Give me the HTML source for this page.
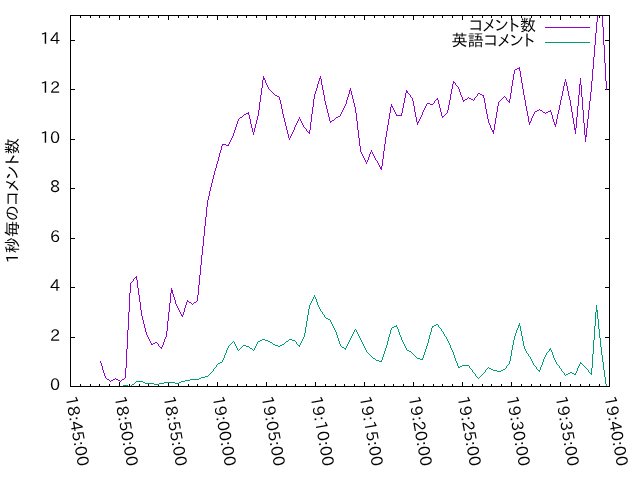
<!DOCTYPE html>
<html lang="ja">
<head>
<meta charset="utf-8">
<title>1秒毎のコメント数</title>
<style>
html,body{margin:0;padding:0;background:#fff;overflow:hidden}
svg{display:block;will-change:transform}
text{font-family:'IPAPGothic','IPAGothic','Liberation Sans',sans-serif;font-size:16px;fill:#000}
.ax{stroke:#000;stroke-width:1;fill:none;shape-rendering:crispEdges}
.ln{stroke-width:1;fill:none;shape-rendering:crispEdges;stroke-linejoin:round}
</style>
</head>
<body>
<svg width="640" height="480" viewBox="0 0 640 480">
<rect width="640" height="480" fill="#fff"/>
<path class="ax" d="M70.5 386v-4M70.5 16v4M80.5 386v-2M80.5 16v2M90.5 386v-2M90.5 16v2M99.5 386v-2M99.5 16v2M109.5 386v-2M109.5 16v2M119.5 386v-4M119.5 16v4M129.5 386v-2M129.5 16v2M139.5 386v-2M139.5 16v2M148.5 386v-2M148.5 16v2M158.5 386v-2M158.5 16v2M168.5 386v-4M168.5 16v4M178.5 386v-2M178.5 16v2M188.5 386v-2M188.5 16v2M197.5 386v-2M197.5 16v2M207.5 386v-2M207.5 16v2M217.5 386v-4M217.5 16v4M227.5 386v-2M227.5 16v2M237.5 386v-2M237.5 16v2M246.5 386v-2M246.5 16v2M256.5 386v-2M256.5 16v2M266.5 386v-4M266.5 16v4M276.5 386v-2M276.5 16v2M286.5 386v-2M286.5 16v2M295.5 386v-2M295.5 16v2M305.5 386v-2M305.5 16v2M315.5 386v-4M315.5 16v4M325.5 386v-2M325.5 16v2M335.5 386v-2M335.5 16v2M344.5 386v-2M344.5 16v2M354.5 386v-2M354.5 16v2M364.5 386v-4M364.5 16v4M374.5 386v-2M374.5 16v2M384.5 386v-2M384.5 16v2M393.5 386v-2M393.5 16v2M403.5 386v-2M403.5 16v2M413.5 386v-4M413.5 16v4M423.5 386v-2M423.5 16v2M433.5 386v-2M433.5 16v2M442.5 386v-2M442.5 16v2M452.5 386v-2M452.5 16v2M462.5 386v-4M462.5 16v4M472.5 386v-2M472.5 16v2M482.5 386v-2M482.5 16v2M491.5 386v-2M491.5 16v2M501.5 386v-2M501.5 16v2M511.5 386v-4M511.5 16v4M521.5 386v-2M521.5 16v2M531.5 386v-2M531.5 16v2M540.5 386v-2M540.5 16v2M550.5 386v-2M550.5 16v2M560.5 386v-4M560.5 16v4M570.5 386v-2M570.5 16v2M580.5 386v-2M580.5 16v2M589.5 386v-2M589.5 16v2M599.5 386v-2M599.5 16v2M609.5 386v-4M609.5 16v4M71 386.5h4M609 386.5h-4M71 337.5h4M609 337.5h-4M71 287.5h4M609 287.5h-4M71 238.5h4M609 238.5h-4M71 188.5h4M609 188.5h-4M71 139.5h4M609 139.5h-4M71 89.5h4M609 89.5h-4M71 40.5h4M609 40.5h-4"/>
<path class="ln" stroke="#9400d3" d="M100.5 361v2M101.5 363v3M102.5 366v4M103.5 370v3M104.5 373v3M105.5 376v2M106.5 378v1M107 379.5h2M109.5 380v1M110.5 381v1M111 380.5h2M113 379.5h2M115.5 378v1M116 379.5h2M118 380.5h2M120.5 381v1M121.5 380v1M122 379.5h2M124.5 378v1M125.5 368v10M126.5 349v19M127.5 330v19M128.5 312v18M129.5 293v19M130.5 283v10M131.5 282v1M132.5 281v1M133.5 279v2M134.5 278v1M135 277.5h2M136.5 276v1M136.5 278v2M137.5 280v8M138.5 288v7M139.5 295v7M140.5 302v8M141.5 310v6M142.5 316v4M143.5 320v4M144.5 324v4M145.5 328v4M146.5 332v3M147.5 335v2M148.5 337v2M149.5 339v2M150.5 341v2M151.5 343v1M151 344.5h2M153 343.5h2M155 342.5h2M157.5 343v1M158.5 344v2M159.5 346v1M160 347.5h2M161.5 348v1M162.5 345v2M163.5 342v3M164.5 339v3M165.5 337v2M166.5 331v6M167.5 321v10M168.5 312v9M169.5 303v9M170.5 293v10M171.5 288v2M171 290.5h2M171 291.5h2M171 292.5h2M172.5 293v1M173.5 294v3M174.5 297v3M175.5 300v4M176.5 304v2M177.5 306v2M178.5 308v2M179.5 310v2M180.5 312v2M181.5 314v1M181 315.5h2M182.5 316v1M183.5 312v3M184.5 308v4M185.5 305v3M186.5 302v3M187.5 300v1M187 301.5h2M189 302.5h2M191.5 303v1M192.5 304v1M193.5 303v1M194 302.5h2M196.5 301v1M197.5 295v6M198.5 285v10M199.5 275v10M200.5 265v10M201.5 255v10M202.5 246v9M203.5 236v10M204.5 226v10M205.5 217v9M206.5 207v10M207.5 200v7M208.5 196v4M209.5 191v5M210.5 187v4M211.5 183v4M212.5 179v4M213.5 175v4M214.5 171v4M215.5 168v3M216.5 164v4M217.5 161v3M218.5 157v4M219.5 153v4M220.5 150v3M221.5 146v4M222 144.5h4M222.5 145v1M226 145.5h3M228.5 144v1M229.5 142v2M230.5 140v2M231.5 138v2M232.5 136v2M233.5 133v3M234.5 130v3M235.5 127v3M236.5 124v3M237.5 121v3M238.5 119v2M239.5 118v1M240 117.5h2M242.5 116v1M243.5 115v1M244 114.5h2M246 113.5h3M248.5 112v1M248.5 114v1M249.5 115v4M250.5 119v5M251.5 124v4M252.5 128v4M253.5 132v3M254.5 128v4M255.5 124v4M256.5 120v4M257.5 116v4M258.5 110v6M259.5 102v8M260.5 95v7M261.5 88v7M262.5 80v8M263.5 76v2M263 78.5h2M263 79.5h2M265.5 80v3M266.5 83v2M267.5 85v2M268.5 87v2M269.5 89v1M270.5 90v1M271.5 91v1M272.5 92v1M273.5 93v1M274.5 94v1M275 95.5h2M277 96.5h2M279.5 97v3M280.5 100v4M281.5 104v5M282.5 109v5M283.5 114v4M284.5 118v4M285.5 122v4M286.5 126v4M287.5 130v4M288.5 134v4M289.5 138v2M290.5 136v2M291.5 134v2M292.5 132v2M293.5 130v2M294.5 127v3M295.5 125v2M296.5 123v2M297.5 121v2M298.5 119v2M299.5 117v2M300.5 119v2M301.5 121v2M302.5 123v2M303.5 125v2M304.5 127v1M305.5 128v1M306.5 129v2M307.5 131v1M308 132.5h2M309.5 130v2M309.5 133v1M310.5 122v8M311.5 114v8M312.5 107v7M313.5 99v8M314.5 94v5M315.5 91v3M316.5 88v3M317.5 84v4M318.5 81v3M319 78.5h2M319.5 79v2M320.5 76v2M321.5 79v6M322.5 85v5M323.5 90v5M324.5 95v6M325.5 101v4M326.5 105v4M327.5 109v4M328.5 113v4M329.5 117v4M330 121.5h2M330.5 122v1M332 120.5h2M334.5 119v1M335.5 118v1M336 117.5h2M338 116.5h2M340.5 114v2M341.5 112v2M342.5 110v2M343.5 108v2M344.5 106v2M345.5 104v2M346.5 100v4M347.5 97v3M348.5 94v3M349 90.5h2M349.5 91v3M350.5 88v2M351.5 91v4M352.5 95v4M353.5 99v4M354.5 103v4M355.5 107v6M356.5 113v8M357.5 121v9M358.5 130v8M359.5 138v8M360.5 146v6M361.5 152v2M362.5 154v2M363.5 156v2M364.5 158v2M365.5 160v2M366.5 162v2M367.5 160v2M368.5 157v3M369.5 154v3M370.5 152v2M371.5 150v2M372.5 152v2M373.5 154v2M374.5 156v2M375.5 158v2M376.5 160v1M377.5 161v2M378.5 163v2M379.5 165v2M380 167.5h2M380 168.5h2M381.5 166v1M381.5 169v1M382.5 159v7M383.5 151v8M384.5 144v7M385.5 137v7M386.5 131v6M387.5 125v6M388.5 119v6M389.5 113v6M390.5 107v6M391.5 104v2M391 106.5h2M392.5 107v1M393.5 108v2M394.5 110v2M395.5 112v2M396.5 114v1M396 115.5h6M401.5 113v2M402.5 108v5M403.5 103v5M404.5 98v5M405.5 93v5M406.5 90v1M406 91.5h2M406 92.5h2M408.5 93v1M409.5 94v1M410.5 95v2M411.5 97v1M412.5 98v3M413.5 101v5M414.5 106v6M415.5 112v5M416.5 117v5M417 122.5h2M417.5 123v2M418.5 121v1M419.5 119v2M420.5 117v2M421.5 115v2M422.5 112v3M423.5 110v2M424.5 108v2M425.5 106v2M426.5 104v2M427 103.5h3M430 104.5h3M433.5 103v1M434.5 101v2M435.5 100v1M436 99.5h2M437.5 98v1M438.5 100v4M439.5 104v4M440.5 108v4M441.5 112v4M442 116.5h2M442.5 117v1M444.5 115v1M445.5 114v1M446.5 113v1M447.5 110v3M448.5 105v5M449.5 100v5M450.5 94v6M451.5 89v5M452.5 84v5M453.5 81v1M453 82.5h2M453.5 83v1M455.5 83v2M456.5 85v1M457.5 86v1M458.5 87v2M459.5 89v3M460.5 92v3M461.5 95v2M462.5 97v3M463 100.5h2M463.5 101v1M465 99.5h2M467.5 98v1M468.5 97v1M469 98.5h2M471 99.5h2M473.5 100v1M474.5 98v2M475.5 97v1M476.5 96v1M477.5 94v2M478 93.5h2M480 94.5h2M482 95.5h2M483.5 96v2M484.5 98v5M485.5 103v6M486.5 109v5M487.5 114v5M488.5 119v4M489.5 123v2M490.5 125v3M491.5 128v2M492 130.5h2M492 131.5h2M493.5 132v2M494.5 124v6M495.5 118v6M496.5 112v6M497.5 106v6M498.5 102v4M499.5 101v1M500.5 100v1M501.5 99v1M502.5 98v1M503.5 97v1M504.5 96v1M505.5 97v1M506.5 98v2M507.5 100v1M508 101.5h2M509.5 99v2M509.5 102v1M510.5 93v6M511.5 86v7M512.5 80v6M513.5 74v6M514.5 70v4M515 69.5h2M517 68.5h3M519.5 67v1M519.5 69v2M520.5 71v6M521.5 77v6M522.5 83v6M523.5 89v6M524.5 95v5M525.5 100v6M526.5 106v5M527.5 111v5M528.5 116v6M529 122.5h2M529.5 123v2M530.5 121v1M531.5 118v3M532.5 116v2M533.5 114v2M534.5 112v2M535 111.5h2M537 110.5h2M539.5 109v1M540 110.5h2M542.5 111v1M543 112.5h2M545.5 113v1M546 112.5h2M548 111.5h3M550.5 110v1M551.5 112v3M552.5 115v4M553.5 119v3M554.5 122v2M554 124.5h2M555.5 125v2M556.5 119v5M557.5 114v5M558.5 110v4M559.5 105v5M560.5 100v5M561.5 96v4M562.5 91v5M563.5 86v5M564.5 82v4M565.5 79v3M566.5 82v4M567.5 86v5M568.5 91v5M569.5 96v4M570.5 100v6M571.5 106v6M572.5 112v6M573.5 118v6M574.5 124v4M574 128.5h2M574 129.5h2M575.5 130v4M576.5 117v11M577.5 106v11M578.5 95v11M579 84.5h2M579.5 85v10M580.5 78v6M581.5 85v12M582.5 97v13M583.5 110v13M584.5 123v12M585 135.5h2M585 136.5h2M585.5 137v5M586.5 128v7M587.5 119v9M588.5 110v9M589.5 101v9M590.5 92v9M591.5 81v11M592.5 69v12M593.5 57v12M594.5 45v12M595.5 33v12M596.5 22v11M597.5 15v7M602.5 15v12M603.5 27v18M604.5 45v18M605.5 63v18M606.5 81v9"/>
<path class="ln" stroke="#009e73" d="M100 386.5h23M123 385.5h5M128 386.5h3M131.5 385v1M132 384.5h2M134.5 383v1M135.5 382v1M136 381.5h7M143 382.5h2M145 383.5h9M154 384.5h5M159 383.5h5M164 382.5h11M175 383.5h4M179 382.5h2M181 381.5h4M185 380.5h5M190 379.5h9M199 378.5h2M201 377.5h4M205 376.5h3M208.5 375v1M209.5 374v1M210.5 373v1M211.5 372v1M212.5 371v1M213.5 369v2M214.5 368v1M215.5 367v1M216.5 365v2M217.5 364v1M218 363.5h2M220 362.5h2M222.5 360v2M223.5 358v2M224.5 355v3M225.5 353v2M226.5 350v3M227.5 348v2M228.5 346v2M229.5 345v1M230.5 344v1M231.5 343v1M232.5 342v1M233.5 341v1M234.5 342v2M235.5 344v2M236.5 346v2M237.5 348v2M238.5 350v1M239.5 349v1M240.5 348v1M241.5 347v1M242.5 346v1M243 345.5h3M246 346.5h3M249.5 347v1M250 348.5h2M252.5 349v1M253.5 350v1M254.5 348v2M255.5 346v2M256.5 344v2M257.5 342v2M258 341.5h2M260 340.5h2M262 339.5h3M265 340.5h3M268 341.5h2M270 342.5h2M272.5 343v1M273 344.5h2M275 345.5h3M278 346.5h2M280 345.5h2M282 344.5h2M284.5 343v1M285.5 342v1M286 341.5h2M288.5 340v1M289 339.5h3M292 340.5h3M295.5 341v1M296.5 342v2M297.5 344v1M298 345.5h2M299.5 346v1M300.5 343v2M301.5 341v2M302.5 339v2M303.5 337v2M304.5 333v4M305.5 327v6M306.5 321v6M307.5 315v6M308.5 309v6M309.5 305v4M310.5 303v2M311.5 301v2M312.5 299v2M313.5 297v2M314.5 295v2M315.5 297v2M316.5 299v3M317.5 302v3M318.5 305v2M319.5 307v2M320.5 309v2M321.5 311v1M322.5 312v2M323.5 314v1M324.5 315v2M325.5 317v1M326 318.5h2M328 319.5h2M330.5 320v2M331.5 322v2M332.5 324v2M333.5 326v2M334.5 328v2M335.5 330v2M336.5 332v3M337.5 335v3M338.5 338v3M339.5 341v3M340.5 344v2M341.5 346v1M342 347.5h2M344 348.5h2M345.5 349v1M346.5 346v2M347.5 344v2M348.5 342v2M349.5 340v2M350.5 338v2M351.5 336v2M352.5 334v2M353.5 332v2M354.5 330v2M355.5 329v1M356.5 330v2M357.5 332v2M358.5 334v2M359.5 336v2M360.5 338v2M361.5 340v2M362.5 342v2M363.5 344v2M364.5 346v2M365.5 348v2M366.5 350v2M367.5 352v1M368.5 353v1M369.5 354v1M370.5 355v1M371.5 356v1M372.5 357v1M373 358.5h2M375.5 359v1M376 360.5h3M379 361.5h3M381.5 360v1M382.5 357v3M383.5 354v3M384.5 351v3M385.5 348v3M386.5 345v3M387.5 341v4M388.5 337v4M389.5 334v3M390.5 330v4M391.5 328v2M392 327.5h2M394 326.5h3M396.5 325v1M397.5 327v2M398.5 329v3M399.5 332v3M400.5 335v2M401.5 337v3M402.5 340v2M403.5 342v2M404.5 344v2M405.5 346v2M406.5 348v2M407 350.5h2M409 351.5h2M411.5 352v1M412.5 353v1M413.5 354v1M414.5 355v1M415.5 356v1M416.5 357v1M417 358.5h3M420 359.5h3M422.5 358v1M423.5 355v3M424.5 352v3M425.5 349v3M426.5 346v3M427.5 343v3M428.5 339v4M429.5 335v4M430.5 332v3M431.5 328v4M432 326.5h2M432.5 327v1M434 325.5h2M436 324.5h2M438.5 325v2M439.5 327v1M440.5 328v1M441.5 329v2M442.5 331v1M443.5 332v2M444.5 334v2M445.5 336v1M446.5 337v2M447.5 339v2M448.5 341v2M449.5 343v2M450.5 345v3M451.5 348v2M452.5 350v2M453.5 352v3M454.5 355v3M455.5 358v3M456.5 361v2M457.5 363v3M458.5 366v1M458 367.5h2M460 366.5h2M462 365.5h7M469.5 366v2M470.5 368v1M471.5 369v1M472.5 370v2M473.5 372v1M474.5 373v1M475.5 374v2M476.5 376v1M477.5 377v1M478.5 378v1M479.5 377v1M480.5 376v1M481.5 375v1M482.5 374v1M483.5 373v1M484.5 372v1M485.5 370v2M486.5 369v1M487.5 368v1M488.5 367v1M489 368.5h2M491 369.5h2M493 370.5h4M497 371.5h4M501 370.5h2M503 369.5h2M505.5 368v1M506.5 366v2M507.5 365v1M508.5 364v1M509.5 361v3M510.5 356v5M511.5 350v6M512.5 345v5M513.5 340v5M514.5 336v4M515.5 333v3M516.5 330v3M517.5 328v2M518 325.5h2M518.5 326v2M519.5 323v2M520.5 326v5M521.5 331v5M522.5 336v5M523.5 341v5M524.5 346v3M525.5 349v2M526.5 351v2M527.5 353v1M528.5 354v2M529.5 356v1M530.5 357v2M531.5 359v2M532.5 361v2M533.5 363v2M534.5 365v1M535.5 366v1M536.5 367v2M537.5 369v1M538 370.5h2M539.5 371v1M540.5 367v3M541.5 365v2M542.5 362v3M543.5 359v3M544.5 357v2M545.5 355v2M546.5 353v2M547.5 352v1M548.5 351v1M549 349.5h2M549.5 350v1M550.5 348v1M551.5 350v2M552.5 352v3M553.5 355v3M554.5 358v2M555.5 360v2M556.5 362v2M557.5 364v1M558.5 365v1M559.5 366v2M560.5 368v1M561.5 369v2M562.5 371v1M563.5 372v1M564.5 373v2M565.5 375v1M566 374.5h2M568 373.5h2M570 372.5h2M572 373.5h2M574 374.5h2M575.5 373v1M576.5 371v2M577.5 368v3M578.5 366v2M579.5 364v2M580.5 362v1M580 363.5h2M582.5 364v1M583.5 365v1M584.5 366v1M585.5 367v1M586.5 368v1M587.5 369v1M588.5 370v2M589.5 372v1M590 373.5h2M591.5 368v5M591.5 374v1M592.5 354v14M593.5 340v14M594.5 326v14M595.5 312v14M596.5 305v5M596 310.5h2M596 311.5h2M597.5 312v7M598.5 319v10M599.5 329v9M600.5 338v9M601.5 347v8M602.5 355v7M603.5 362v8M604.5 370v7M605.5 377v7M606.5 384v3"/>
<line class="ln" stroke="#9400d3" x1="545" x2="590" y1="27.5" y2="27.5"/>
<line class="ln" stroke="#009e73" x1="545" x2="590" y1="42.5" y2="42.5"/>
<rect class="ax" x="70.5" y="15.5" width="539" height="371"/>
<text x="60.2" y="390" text-anchor="end" textLength="10.08" lengthAdjust="spacingAndGlyphs">0</text>
<text x="60.2" y="341" text-anchor="end" textLength="10.08" lengthAdjust="spacingAndGlyphs">2</text>
<text x="60.2" y="291" text-anchor="end" textLength="10.08" lengthAdjust="spacingAndGlyphs">4</text>
<text x="60.2" y="242" text-anchor="end" textLength="10.08" lengthAdjust="spacingAndGlyphs">6</text>
<text x="60.2" y="192" text-anchor="end" textLength="10.08" lengthAdjust="spacingAndGlyphs">8</text>
<text x="60.2" y="143" text-anchor="end" textLength="20.16" lengthAdjust="spacingAndGlyphs">10</text>
<text x="60.2" y="93" text-anchor="end" textLength="20.16" lengthAdjust="spacingAndGlyphs">12</text>
<text x="60.2" y="44" text-anchor="end" textLength="20.16" lengthAdjust="spacingAndGlyphs">14</text>
<text transform="translate(71 396.1) rotate(80)" x="0" y="5.5" textLength="71" lengthAdjust="spacingAndGlyphs">18:45:00</text>
<text transform="translate(120 396.1) rotate(80)" x="0" y="5.5" textLength="71" lengthAdjust="spacingAndGlyphs">18:50:00</text>
<text transform="translate(169 396.1) rotate(80)" x="0" y="5.5" textLength="71" lengthAdjust="spacingAndGlyphs">18:55:00</text>
<text transform="translate(218 396.1) rotate(80)" x="0" y="5.5" textLength="71" lengthAdjust="spacingAndGlyphs">19:00:00</text>
<text transform="translate(267 396.1) rotate(80)" x="0" y="5.5" textLength="71" lengthAdjust="spacingAndGlyphs">19:05:00</text>
<text transform="translate(316 396.1) rotate(80)" x="0" y="5.5" textLength="71" lengthAdjust="spacingAndGlyphs">19:10:00</text>
<text transform="translate(365 396.1) rotate(80)" x="0" y="5.5" textLength="71" lengthAdjust="spacingAndGlyphs">19:15:00</text>
<text transform="translate(414 396.1) rotate(80)" x="0" y="5.5" textLength="71" lengthAdjust="spacingAndGlyphs">19:20:00</text>
<text transform="translate(463 396.1) rotate(80)" x="0" y="5.5" textLength="71" lengthAdjust="spacingAndGlyphs">19:25:00</text>
<text transform="translate(512 396.1) rotate(80)" x="0" y="5.5" textLength="71" lengthAdjust="spacingAndGlyphs">19:30:00</text>
<text transform="translate(561 396.1) rotate(80)" x="0" y="5.5" textLength="71" lengthAdjust="spacingAndGlyphs">19:35:00</text>
<text transform="translate(610 396.1) rotate(80)" x="0" y="5.5" textLength="71" lengthAdjust="spacingAndGlyphs">19:40:00</text>
<text x="536" y="31.1" text-anchor="end" textLength="67.05" lengthAdjust="spacingAndGlyphs">コメント数</text>
<text x="535" y="46.1" text-anchor="end" textLength="83.4" lengthAdjust="spacingAndGlyphs">英語コメント</text>
<text transform="translate(18 200.7) rotate(-90)" text-anchor="middle" textLength="125.2" lengthAdjust="spacingAndGlyphs">1秒毎のコメント数</text>
</svg>
</body>
</html>
